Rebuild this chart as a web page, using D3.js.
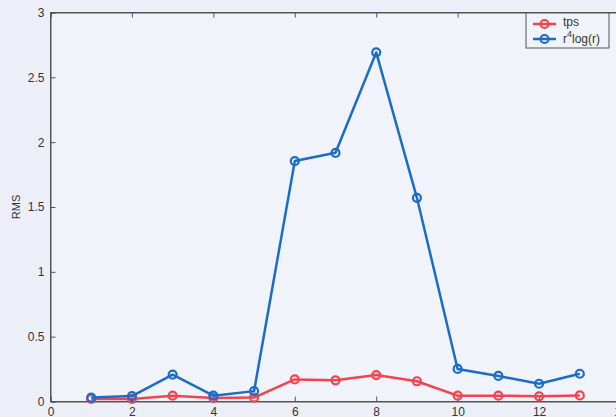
<!DOCTYPE html>
<html><head><meta charset="utf-8">
<script src="https://cdn.jsdelivr.net/npm/d3@7"></script>
<style>
html,body{margin:0;padding:0;background:#eceff8;}
svg{display:block;}
text{font-family:"Liberation Sans",Arial,sans-serif;fill:#333;}
</style></head><body>
<svg id="c" width="616" height="417"></svg>
<script>
const xs = [1,2,3,4,5,6,7,8,9,10,11,12,13];
const tps = [0.02,0.02,0.045,0.027,0.03,0.17,0.163,0.204,0.156,0.045,0.045,0.04,0.047];
const r4log = [0.03,0.042,0.207,0.045,0.08,1.854,1.918,2.692,1.571,0.251,0.197,0.137,0.214];
const xTicks = [0,2,4,6,8,10,12,14];
const yTicks = [0,0.5,1,1.5,2,2.5,3];
const seriesNames = ["tps","r4log"];
const colors = ["#f2444f","#1b6cc6"];

const svg = d3.select("#c");
svg.append("rect").attr("width",616).attr("height",417).attr("fill","#eceff8");
const x = d3.scaleLinear().domain([0,14]).range([50.5,620.5]);
const y = d3.scaleLinear().domain([0,3]).range([401.5,12.5]);

const g = svg.append("g");
// box
g.append("rect").attr("x",x(0)).attr("y",y(3)).attr("width",x(14)-x(0)).attr("height",y(0)-y(3))
 .attr("fill","#f1f3fa").attr("stroke","#555").attr("stroke-width",1);

// bottom axis
const xa = g.append("g").attr("transform",`translate(0,${y(0)})`)
  .call(d3.axisBottom(x).tickValues(xTicks).tickSize(-5).tickPadding(6).tickFormat(d3.format("d")));
// top ticks
const xt = g.append("g").attr("transform",`translate(0,${y(3)})`)
  .call(d3.axisTop(x).tickValues(xTicks).tickSize(-5).tickFormat(""));
const ya = g.append("g").attr("transform",`translate(${x(0)},0)`)
  .call(d3.axisLeft(y).tickValues(yTicks).tickSize(-5).tickPadding(6).tickFormat(d=>String(d)));
[xa,xt,ya].forEach(a=>{a.select(".domain").attr("stroke","#555");a.selectAll(".tick line").attr("stroke","#555");
  a.selectAll("text").attr("font-size",12).attr("fill","#333").attr("font-family","Liberation Sans, Arial, sans-serif");});

g.append("text").attr("transform",`translate(20,${y(1.5)}) rotate(-90)`).attr("text-anchor","middle")
 .attr("font-size",11).text("RMS");

const clip = svg.append("clipPath").attr("id","cl").append("rect").attr("x",x(0)).attr("y",0).attr("width",616).attr("height",417);
const data = [tps, r4log];
const line = d3.line().x((d,i)=>x(xs[i])).y(d=>y(d));
data.forEach((vals,k)=>{
  const s = g.append("g");
  s.append("path").datum(vals).attr("d",line).attr("fill","none").attr("stroke",colors[k]).attr("stroke-width",2.5).attr("stroke-linejoin","round");
  s.selectAll("circle").data(vals).join("circle").attr("cx",(d,i)=>x(xs[i])).attr("cy",d=>y(d)).attr("r",4)
   .attr("fill","none").attr("stroke",colors[k]).attr("stroke-width",2.2);
});

// legend
const lg = svg.append("g");
lg.append("rect").attr("x",526).attr("y",13).attr("width",83).attr("height",35).attr("fill","#f1f3fa").attr("stroke","#555");
const ly = [24,39];
[0,1].forEach(k=>{
  lg.append("line").attr("x1",533).attr("x2",556).attr("y1",ly[k]).attr("y2",ly[k]).attr("stroke",colors[k]).attr("stroke-width",2.5);
  lg.append("circle").attr("cx",544.5).attr("cy",ly[k]).attr("r",4).attr("fill","none").attr("stroke",colors[k]).attr("stroke-width",2.2);
});
lg.append("text").attr("x",563).attr("y",ly[0]+2).attr("font-size",12).text("tps");
const t2 = lg.append("text").attr("x",563).attr("y",ly[1]+4).attr("font-size",12);
t2.append("tspan").text("r");
t2.append("tspan").attr("dy",-6).attr("font-size",9).text("4");
t2.append("tspan").attr("dy",6).attr("font-size",12).text("log(r)");
</script>
</body></html>
